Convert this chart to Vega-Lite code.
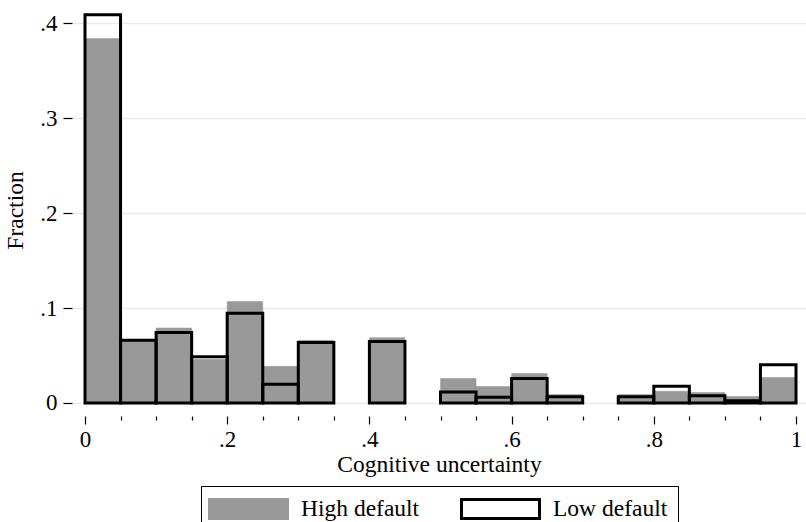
{
  "$schema": "https://vega.github.io/schema/vega-lite/v6.json",
  "autosize": {"type": "none"},
  "width": 734,
  "height": 412,
  "padding": {"left": 72, "top": 4, "right": 0, "bottom": 106},
  "background": "white",
  "config": {
    "font": "Liberation Serif",
    "view": {"stroke": null},
    "axis": {
      "labelFont": "Liberation Serif",
      "titleFont": "Liberation Serif",
      "labelFontSize": 23,
      "titleFontSize": 23.5,
      "labelColor": "#000000",
      "titleColor": "#000000",
      "titleFontWeight": "normal",
      "tickColor": "#000000",
      "tickWidth": 1.2,
      "domain": false
    },
    "legend": {
      "labelFont": "Liberation Serif",
      "labelFontSize": 23.5,
      "labelColor": "#000000"
    }
  },
  "data": {
    "values": [
      {"group": "High default", "bin_start": 0.00, "bin_end": 0.05, "fraction": 0.384},
      {"group": "High default", "bin_start": 0.05, "bin_end": 0.10, "fraction": 0.067},
      {"group": "High default", "bin_start": 0.10, "bin_end": 0.15, "fraction": 0.079},
      {"group": "High default", "bin_start": 0.15, "bin_end": 0.20, "fraction": 0.046},
      {"group": "High default", "bin_start": 0.20, "bin_end": 0.25, "fraction": 0.107},
      {"group": "High default", "bin_start": 0.25, "bin_end": 0.30, "fraction": 0.0386},
      {"group": "High default", "bin_start": 0.30, "bin_end": 0.35, "fraction": 0.066},
      {"group": "High default", "bin_start": 0.40, "bin_end": 0.45, "fraction": 0.0688},
      {"group": "High default", "bin_start": 0.50, "bin_end": 0.55, "fraction": 0.0258},
      {"group": "High default", "bin_start": 0.55, "bin_end": 0.60, "fraction": 0.0174},
      {"group": "High default", "bin_start": 0.60, "bin_end": 0.65, "fraction": 0.0311},
      {"group": "High default", "bin_start": 0.65, "bin_end": 0.70, "fraction": 0.009},
      {"group": "High default", "bin_start": 0.75, "bin_end": 0.80, "fraction": 0.009},
      {"group": "High default", "bin_start": 0.80, "bin_end": 0.85, "fraction": 0.0124},
      {"group": "High default", "bin_start": 0.85, "bin_end": 0.90, "fraction": 0.011},
      {"group": "High default", "bin_start": 0.90, "bin_end": 0.95, "fraction": 0.0068},
      {"group": "High default", "bin_start": 0.95, "bin_end": 1.00, "fraction": 0.0269},
      {"group": "Low default", "bin_start": 0.00, "bin_end": 0.05, "fraction": 0.409},
      {"group": "Low default", "bin_start": 0.05, "bin_end": 0.10, "fraction": 0.0662},
      {"group": "Low default", "bin_start": 0.10, "bin_end": 0.15, "fraction": 0.0743},
      {"group": "Low default", "bin_start": 0.15, "bin_end": 0.20, "fraction": 0.0487},
      {"group": "Low default", "bin_start": 0.20, "bin_end": 0.25, "fraction": 0.0946},
      {"group": "Low default", "bin_start": 0.25, "bin_end": 0.30, "fraction": 0.0198},
      {"group": "Low default", "bin_start": 0.30, "bin_end": 0.35, "fraction": 0.0637},
      {"group": "Low default", "bin_start": 0.40, "bin_end": 0.45, "fraction": 0.0648},
      {"group": "Low default", "bin_start": 0.50, "bin_end": 0.55, "fraction": 0.0116},
      {"group": "Low default", "bin_start": 0.55, "bin_end": 0.60, "fraction": 0.0061},
      {"group": "Low default", "bin_start": 0.60, "bin_end": 0.65, "fraction": 0.0258},
      {"group": "Low default", "bin_start": 0.65, "bin_end": 0.70, "fraction": 0.0065},
      {"group": "Low default", "bin_start": 0.75, "bin_end": 0.80, "fraction": 0.0065},
      {"group": "Low default", "bin_start": 0.80, "bin_end": 0.85, "fraction": 0.0177},
      {"group": "Low default", "bin_start": 0.85, "bin_end": 0.90, "fraction": 0.0076},
      {"group": "Low default", "bin_start": 0.90, "bin_end": 0.95, "fraction": 0.0023},
      {"group": "Low default", "bin_start": 0.95, "bin_end": 1.00, "fraction": 0.0403}
    ]
  },
  "encoding": {
    "x": {
      "field": "bin_start",
      "type": "quantitative",
      "scale": {"domain": [-0.01828, 1.01406], "nice": false, "zero": false},
      "axis": {
        "title": "Cognitive uncertainty",
        "values": [0, 0.05, 0.1, 0.15, 0.2, 0.25, 0.3, 0.35, 0.4, 0.45, 0.5, 0.55, 0.6, 0.65, 0.7, 0.75, 0.8, 0.85, 0.9, 0.95, 1],
        "grid": false,
        "tickSize": {"condition": {"test": "indexof([0, 0.2, 0.4, 0.6, 0.8, 1], datum.value) >= 0", "value": 8}, "value": 4},
        "labelExpr": "datum.value == 0 ? '0' : datum.value == 1 ? '1' : datum.value == 0.2 ? '.2' : datum.value == 0.4 ? '.4' : datum.value == 0.6 ? '.6' : datum.value == 0.8 ? '.8' : ''",
        "labelOverlap": false,
        "labelFlush": false,
        "labelPadding": 4,
        "titlePadding": 1
      }
    },
    "x2": {"field": "bin_end"},
    "y": {
      "field": "fraction",
      "type": "quantitative",
      "scale": {"domain": [-0.0137, 0.4204], "nice": false, "zero": false},
      "axis": {
        "title": "Fraction",
        "values": [0, 0.1, 0.2, 0.3, 0.4],
        "labelExpr": "datum.value == 0 ? '0' : replace(format(datum.value, '.1f'), '0.', '.')",
        "grid": true,
        "gridColor": "#eaeaea",
        "gridWidth": 1.6,
        "tickSize": 9,
        "labelPadding": 6,
        "titlePadding": 12
      }
    },
    "y2": {"datum": 0}
  },
  "layer": [
    {
      "transform": [{"filter": "datum.group === 'High default'"}],
      "mark": {"type": "bar", "strokeWidth": 0.5},
      "encoding": {
        "fill": {
          "field": "group",
          "type": "nominal",
          "scale": {"domain": ["High default", "Low default"], "range": ["#999999", "#ffffff"]},
          "legend": {
            "title": null,
            "orient": "none",
            "legendX": 129,
            "legendY": 482,
            "direction": "horizontal",
            "symbolType": "M-3.545,-0.864H3.545V0.864H-3.545Z",
            "symbolSize": 484,
            "symbolStrokeWidth": 3,
            "symbolOffset": 25,
            "labelOffset": 40,
            "columnPadding": 35,
            "padding": 10,
            "strokeColor": "#000000",
            "fillColor": "#ffffff"
          }
        },
        "stroke": {
          "field": "group",
          "type": "nominal",
          "scale": {"domain": ["High default", "Low default"], "range": ["#999999", "#000000"]},
          "legend": {
            "title": null,
            "orient": "none",
            "legendX": 129,
            "legendY": 482,
            "direction": "horizontal",
            "symbolType": "M-3.545,-0.864H3.545V0.864H-3.545Z",
            "symbolSize": 484,
            "symbolStrokeWidth": 3,
            "symbolOffset": 25,
            "labelOffset": 40,
            "columnPadding": 35,
            "padding": 10,
            "strokeColor": "#000000",
            "fillColor": "#ffffff"
          }
        }
      }
    },
    {
      "transform": [{"filter": "datum.group === 'Low default'"}],
      "mark": {"type": "bar", "filled": false, "strokeWidth": 3},
      "encoding": {
        "stroke": {"field": "group", "type": "nominal"}
      }
    }
  ]
}
